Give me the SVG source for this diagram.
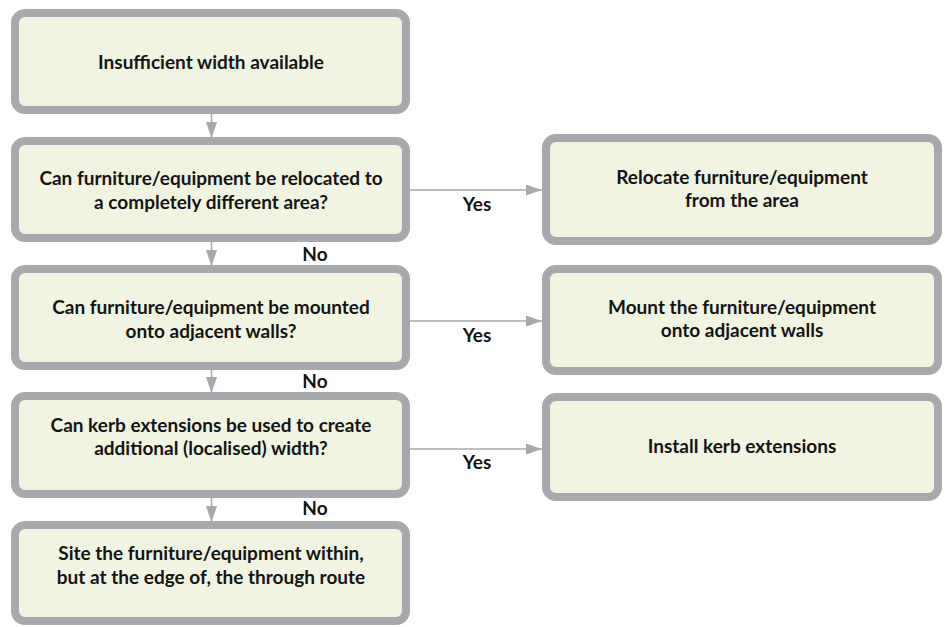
<svg xmlns="http://www.w3.org/2000/svg" width="949" height="627" viewBox="0 0 949 627">
<style>
.box{fill:#f2f4e2;stroke:#a7a9ac;stroke-width:8}
.t{font-family:Lato,"Open Sans","Liberation Sans",sans-serif;font-weight:bold;font-size:19px;fill:#141414;text-anchor:middle}
.c{stroke:#a7a9ac;stroke-width:1.6;fill:none}
</style>
<defs>
<marker id="ah" markerUnits="userSpaceOnUse" markerWidth="17" markerHeight="11" refX="16" refY="5.5" orient="auto">
<path d="M0,0 L16,5.5 L0,11 z" fill="#a7a9ac"/>
</marker>
</defs>
<g id="connectors">
<line class="c" x1="211.5" y1="114" x2="211.5" y2="138" marker-end="url(#ah)"/>
<line class="c" x1="211.5" y1="242" x2="211.5" y2="266" marker-end="url(#ah)"/>
<line class="c" x1="211.5" y1="370" x2="211.5" y2="393" marker-end="url(#ah)"/>
<line class="c" x1="211.5" y1="498" x2="211.5" y2="522" marker-end="url(#ah)"/>
<line class="c" x1="410" y1="190" x2="542" y2="190" marker-end="url(#ah)"/>
<line class="c" x1="410" y1="321" x2="542" y2="321" marker-end="url(#ah)"/>
<line class="c" x1="410" y1="449" x2="542" y2="449" marker-end="url(#ah)"/>
<text class="t" x="477" y="211">Yes</text>
<text class="t" x="477" y="342">Yes</text>
<text class="t" x="477" y="469">Yes</text>
<text class="t" x="315" y="261">No</text>
<text class="t" x="315" y="388">No</text>
<text class="t" x="315" y="515">No</text>
</g>
<g id="n1">
<rect class="box" x="15" y="13" width="391" height="97" rx="10"/>
<text class="t" x="211" y="69">Insufficient width available</text>
</g>
<g id="n2">
<rect class="box" x="15" y="141" width="391" height="97" rx="10"/>
<text class="t" x="211" y="185">Can furniture/equipment be relocated to</text>
<text class="t" x="211" y="209">a completely different area?</text>
</g>
<g id="n3">
<rect class="box" x="15" y="269" width="391" height="97" rx="10"/>
<text class="t" x="211" y="314">Can furniture/equipment be mounted</text>
<text class="t" x="211" y="338">onto adjacent walls?</text>
</g>
<g id="n4">
<rect class="box" x="15" y="396" width="391" height="98" rx="10"/>
<text class="t" x="211" y="432">Can kerb extensions be used to create</text>
<text class="t" x="211" y="455">additional (localised) width?</text>
</g>
<g id="n5">
<rect class="box" x="15" y="525" width="391" height="96" rx="10"/>
<text class="t" x="211" y="560">Site the furniture/equipment within,</text>
<text class="t" x="211" y="584">but at the edge of, the through route</text>
</g>
<g id="r1">
<rect class="box" x="546" y="138" width="392" height="103" rx="10"/>
<text class="t" x="742" y="184">Relocate furniture/equipment</text>
<text class="t" x="742" y="207">from the area</text>
</g>
<g id="r2">
<rect class="box" x="546" y="269" width="392" height="102" rx="10"/>
<text class="t" x="742" y="314">Mount the furniture/equipment</text>
<text class="t" x="742" y="337">onto adjacent walls</text>
</g>
<g id="r3">
<rect class="box" x="546" y="397" width="392" height="100" rx="10"/>
<text class="t" x="742" y="453">Install kerb extensions</text>
</g>
</svg>
